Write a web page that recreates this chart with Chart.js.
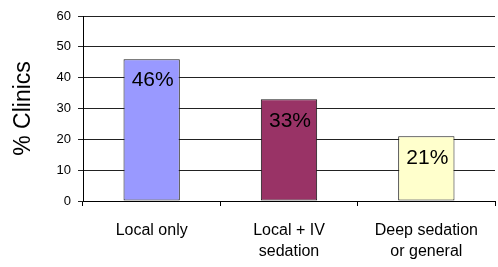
<!DOCTYPE html>
<html>
<head>
<meta charset="utf-8">
<script src="https://cdn.jsdelivr.net/npm/chart.js@4"></script>
<style>
html,body{margin:0;padding:0;background:#fff;}
#wrap{width:498px;height:267px;position:relative;}
</style>
</head>
<body>
<div id="wrap"><canvas id="c" width="498" height="267"></canvas></div>
<script>
const categories = [["Local only"], ["Local + IV", "sedation"], ["Deep sedation", "or general"]];
const values = [46, 33, 21];
const valueLabels = ["46%", "33%", "21%"];
const barColors = ["#9999FF", "#993366", "#FFFFCC"];
const yTicks = [0, 10, 20, 30, 40, 50, 60];
const yTitle = "% Clinics";

const FONT = "'Liberation Sans', Arial, sans-serif";

const labelPlugin = {
  id: 'valLabels',
  afterDatasetsDraw(chart) {
    const ctx = chart.ctx;
    const meta = chart.getDatasetMeta(0);
    ctx.save();
    ctx.font = "21px " + FONT;
    ctx.fillStyle = "#000";
    ctx.textAlign = "center";
    ctx.textBaseline = "top";
    meta.data.forEach((bar, i) => {
      ctx.fillText(valueLabels[i], bar.x + 1, bar.y + 11);
    });
    ctx.restore();
  }
};

new Chart(document.getElementById('c'), {
  type: 'bar',
  data: {
    labels: categories,
    datasets: [{
      data: values,
      backgroundColor: barColors,
      borderColor: "#1a1a1a",
      borderWidth: 1,
      borderSkipped: false,
      categoryPercentage: 0.41,
      barPercentage: 1.0
    }]
  },
  options: {
    responsive: false,
    animation: false,
    layout: { padding: { top: 16, right: 3, left: 0, bottom: 0 } },
    plugins: { legend: { display: false }, tooltip: { enabled: false } },
    scales: {
      x: {
        offset: true,
        grid: { display: true, drawOnChartArea: false, drawTicks: true, tickLength: 5, color: "#000", offset: true },
        border: { display: true, color: "#000", width: 1 },
        ticks: { color: "#000", font: { family: FONT, size: 16, lineHeight: 1.3 }, padding: 14, maxRotation: 0, autoSkip: false },
        afterFit(scale) { scale.height = 66; }
      },
      y: {
        min: 0, max: 60,
        afterBuildTicks(scale) { scale.ticks = yTicks.map(v => ({ value: v })); },
        grid: { color: "#222", lineWidth: 1, drawTicks: true, tickLength: 5 },
        border: { display: true, color: "#000", width: 1 },
        ticks: { color: "#000", font: { family: FONT, size: 13 }, padding: 7 },
        title: { display: true, text: yTitle, color: "#000", font: { family: FONT, size: 23, lineHeight: 1.2 }, padding: { top: 10, bottom: 0 } },
        afterFit(scale) { scale.width = 83; }
      }
    }
  },
  plugins: [labelPlugin]
});
</script>
</body>
</html>
